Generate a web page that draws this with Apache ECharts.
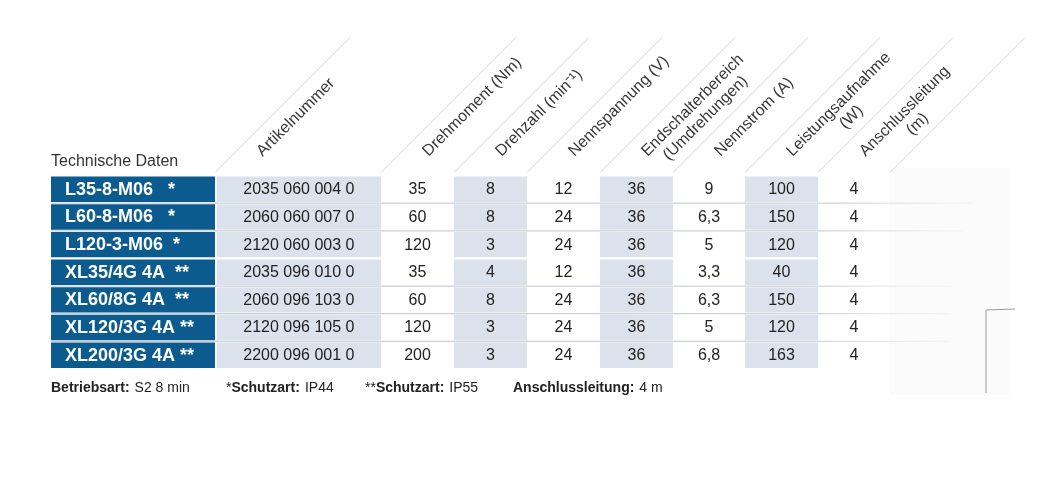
<!DOCTYPE html>
<html>
<head>
<meta charset="utf-8">
<script src="https://cdn.jsdelivr.net/npm/echarts@6/dist/echarts.min.js"></script>
<style>
html,body{margin:0;padding:0;background:#fff}
#chart{width:1053px;height:492px}
</style>
</head>
<body>
<div id="chart"></div>
<script>
// Tabellenwerte
var headers = ['Artikelnummer', 'Drehmoment (Nm)', 'Drehzahl (min\u207B\u00B9)', 'Nennspannung (V)',
	'Endschalterbereich\n(Umdrehungen)', 'Nennstrom (A)', 'Leistungsaufnahme\n(W)', 'Anschlussleitung\n(m)'];
var models = ['L35-8-M06   *', 'L60-8-M06   *', 'L120-3-M06  *', 'XL35/4G 4A  **', 'XL60/8G 4A  **', 'XL120/3G 4A **', 'XL200/3G 4A **'];
var artikel = ['2035 060 004 0', '2060 060 007 0', '2120 060 003 0', '2035 096 010 0', '2060 096 103 0', '2120 096 105 0', '2200 096 001 0'];
var drehmoment = ['35', '60', '120', '35', '60', '120', '200'];
var drehzahl = ['8', '8', '3', '4', '8', '3', '3'];
var spannung = ['12', '24', '24', '12', '24', '24', '24'];
var endschalter = ['36', '36', '36', '36', '36', '36', '36'];
var strom = ['9', '6,3', '5', '3,3', '6,3', '5', '6,8'];
var leistung = ['100', '150', '120', '40', '150', '120', '163'];
var kabel = ['4', '4', '4', '4', '4', '4', '4'];

var columns = [models, artikel, drehmoment, drehzahl, spannung, endschalter, strom, leistung, kabel];

// Layout (Spaltenbreiten in px)
var colW = [164, 166, 73, 73, 73, 73, 72, 73, 72];
var edges = [0];
colW.forEach(function (w, i) { edges.push(edges[i] + w); });
var shaded = [1, 3, 5, 7];
var sepRows = [[0, 83], [1, 73], [3, 62], [4, 60], [5, 60]];

var BLUE = '#0b5b8f', SHADE = '#dce2ec', INK = '#222', HEAD = '#383838', DIAG = '#d2d5d9';
var FONT = '"Liberation Sans", Arial, sans-serif';
var HEAD_FS = 16, HEAD_LH = 18;

var ctx = document.createElement('canvas').getContext('2d');
function textW(t, font) { ctx.font = font; return ctx.measureText(t).width; }

var cells = [];
columns.forEach(function (col, c) {
	col.forEach(function (v, r) { cells.push([c, r]); });
});

function cellItem(params, api) {
	var c = api.value(0), r = api.value(1);
	var p0 = api.coord([edges[c], r]);
	var p1 = api.coord([edges[c + 1], r]);
	var bh = api.size([0, 1])[1];
	var h = bh - 2.2;
	var x = p0[0] + (c === 1 ? 1.7 : 0);
	var w = p1[0] - x;
	var y = p0[1] - h / 2;
	var fill = c === 0 ? BLUE : (shaded.indexOf(c) >= 0 ? SHADE : null);
	var kids = [];
	if (fill) {
		kids.push({ type: 'rect', shape: { x: x, y: y, width: w, height: h }, style: { fill: fill } });
	}
	kids.push({
		type: 'text',
		x: c === 0 ? x + 14 : x + w / 2,
		y: p0[1] + 0.5,
		style: {
			text: columns[c][r],
			fill: c === 0 ? '#fff' : INK,
			font: (c === 0 ? 'bold 18px ' : '16px ') + FONT,
			align: c === 0 ? 'left' : 'center',
			verticalAlign: 'middle'
		}
	});
	return { type: 'group', children: kids };
}

function headItem(params, api) {
	var c = api.value(0);
	var bh = api.size([0, 1])[1];
	var base = api.coord([edges[c], 0]);
	var top = base[1] - bh / 2;
	var kids = [];
	var lineX = [edges[c]];
	if (c === columns.length - 1) lineX.push(edges[c + 1]);
	lineX.forEach(function (ex) {
		var px = api.coord([ex, 0])[0];
		kids.push({
			type: 'line',
			shape: { x1: px, y1: top - 3, x2: px + 135, y2: top - 138 },
			style: { stroke: DIAG, lineWidth: 1 }
		});
	});
	var lines = headers[c - 1].split('\n');
	var font = HEAD_FS + 'px ' + FONT;
	var w0 = textW(lines[0], font);
	var ax = base[0] + 50, ay = top - 16;
	var s = Math.SQRT1_2;
	lines.forEach(function (t, i) {
		var d = (w0 - textW(t, font)) / 2;
		kids.push({
			type: 'text',
			x: ax + i * HEAD_LH * s + d * s,
			y: ay + i * HEAD_LH * s - d * s,
			rotation: Math.PI / 4,
			style: { text: t, fill: HEAD, font: font, align: 'left', verticalAlign: 'bottom' }
		});
	});
	return { type: 'group', children: kids };
}

function sepItem(params, api) {
	var r = api.value(0), ext = api.value(1);
	var bh = api.size([0, 1])[1];
	var p0 = api.coord([0, r]);
	var p1 = api.coord([edges[edges.length - 1] + ext, r]);
	var y = p0[1] + bh / 2;
	return {
		type: 'line',
		shape: { x1: p0[0], y1: y, x2: p1[0], y2: y },
		style: {
			lineWidth: 1.2,
			stroke: new echarts.graphic.LinearGradient(0, 0, 1, 0, [
				{ offset: 0, color: '#c9cdd3' },
				{ offset: 0.85, color: '#cfd3d8' },
				{ offset: 1, color: 'rgba(220,223,227,0.2)' }
			])
		}
	};
}

var footRich = {
	b: { fontFamily: FONT, fontSize: 14, fontWeight: 'bold', color: '#222' },
	r: { fontFamily: FONT, fontSize: 14, fontWeight: 'normal', color: '#222' }
};
function foot(text, left) {
	return { text: text, left: left, top: 374, textStyle: { fontWeight: 'normal', rich: footRich } };
}

var myChart = echarts.init(document.getElementById('chart'));
myChart.setOption({
	animation: false,
	title: [{
		text: 'Technische Daten', left: 46, top: 149,
		textStyle: { fontFamily: FONT, fontSize: 16, fontWeight: 'normal', color: '#333' }
	},
		foot('{b|Betriebsart:} {r|S2 8 min}', 46),
		foot('{r|*}{b|Schutzart:} {r|IP44}', 221),
		foot('{r|**}{b|Schutzart:} {r|IP55}', 360),
		foot('{b|Anschlussleitung:} {r|4 m}', 508)
	],
	grid: { left: 51, top: 175.5, width: 839, height: 193.5 },
	xAxis: { type: 'value', min: 0, max: 839, show: false },
	yAxis: { type: 'category', data: models, inverse: true, show: false },
	graphic: [
		{ type: 'rect', shape: { x: 890, y: 168, width: 120, height: 227 }, style: { fill: '#fbfbfb' }, z: -1 },
		{ type: 'polyline', shape: { points: [[1015, 309], [986, 310], [986, 393]] }, style: { stroke: '#9a9a9a', lineWidth: 1, fill: null } }
	],
	series: [
		{ type: 'custom', name: 'Linien', renderItem: sepItem, data: sepRows, z: 1, silent: true },
		{ type: 'custom', name: 'Kopf', renderItem: headItem, data: headers.map(function (h, i) { return [i + 1, 0]; }), z: 2, silent: true },
		{ type: 'custom', name: 'Zellen', renderItem: cellItem, data: cells, z: 3, silent: true }
	]
});
</script>
</body>
</html>
